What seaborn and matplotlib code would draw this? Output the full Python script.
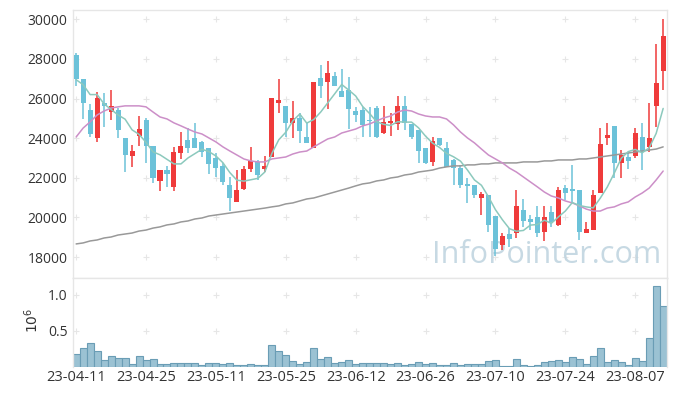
import numpy as np
import pandas as pd
import matplotlib
matplotlib.use('Agg')
import matplotlib.pyplot as plt
import seaborn as sns

# trading days shown on the axis (every 10th session)
tick_days = [0, 10, 20, 30, 40, 50, 60, 70, 80]
tick_labels = ['23-04-11', '23-04-25', '23-05-11', '23-05-25', '23-06-12',
               '23-06-26', '23-07-10', '23-07-24', '23-08-07']

opens = [28200, 27000, 25400, 24000, 25800, 25300, 25400, 24000, 23100, 24100,
         24900, 23600, 21850, 22400, 21550, 23250, 23900, 24000, 23800, 23500,
         23000, 22600, 21650, 20800, 21450, 22450, 22800, 22450, 23050, 25750,
         25600, 24750, 25000, 24050, 23500, 27050, 26850, 27150, 26400, 26450,
         25350, 25400, 24900, 25500, 24250, 24750, 24700, 25600, 24700, 24400,
         23500, 22800, 24000, 23500, 22900, 22500, 21700, 21650, 21000, 21150,
         20050, 18600, 19150, 19200, 20350, 19900, 20000, 19250, 20250, 19600,
         21500, 21450, 21400, 19200, 19350, 21250, 24000, 24600, 22750, 23050,
         23100, 24050, 23550, 25600, 27400]
highs = [28300, 27000, 25700, 26350, 26300, 26450, 25500, 24000, 23650, 25100,
         25000, 23600, 22400, 22600, 23550, 24300, 24500, 24750, 23850, 23500,
         23250, 22750, 22050, 22400, 22600, 23550, 22900, 23100, 26050, 27000,
         25600, 25900, 25250, 24800, 26850, 27700, 27900, 27350, 27500, 27100,
         25550, 25550, 25550, 25600, 25600, 25250, 26150, 26150, 24700, 24400,
         23500, 24050, 24000, 23800, 22950, 22650, 22000, 21650, 21300, 21150,
         20050, 19200, 19450, 21400, 20950, 20100, 20550, 20550, 20550, 21550,
         21650, 22650, 21400, 19750, 21400, 24500, 24750, 24600, 23400, 23300,
         24500, 24750, 25750, 28750, 30000]
lows = [26650, 24950, 24050, 23800, 24550, 24900, 24000, 22300, 22550, 23600,
        22750, 21750, 21350, 21550, 21350, 22950, 23250, 23500, 23050, 22200,
        22050, 21650, 20300, 20800, 21400, 22300, 21900, 22300, 23050, 25250,
        24050, 24000, 23750, 23750, 23500, 26050, 25450, 26650, 26100, 24450,
        24800, 24050, 24050, 24000, 24200, 24100, 24400, 24400, 23950, 22750,
        22700, 22600, 23600, 22550, 21650, 21500, 20750, 21000, 20100, 19250,
        18050, 18350, 18500, 18950, 19500, 19350, 19000, 18800, 19500, 19550,
        20900, 20750, 18850, 19200, 19350, 21250, 23650, 22000, 22000, 22450,
        23000, 22400, 23300, 24550, 26450]
closes = [27000, 25800, 24200, 26050, 25600, 25600, 24400, 23150, 23350, 24450,
          23600, 22000, 22400, 22200, 23300, 23600, 23500, 23500, 23300, 22700,
          22500, 21800, 21000, 21400, 22450, 22850, 22150, 22600, 26050, 25950,
          24750, 25000, 24350, 23750, 26850, 26650, 27300, 26650, 26100, 25450,
          25150, 24650, 24850, 24050, 24800, 24850, 25600, 24750, 24050, 23350,
          22750, 23850, 23650, 22550, 22500, 21650, 21600, 21150, 21200, 19600,
          18400, 19050, 18900, 20550, 19800, 19750, 19200, 20000, 19750, 21400,
          21250, 21350, 19250, 19400, 21150, 23700, 24150, 22750, 23150, 22850,
          24250, 23300, 24000, 26800, 29150]
# closes of the 4 sessions before the window (for the 5-day average)
prior_closes = [27050, 26700, 26050, 27950]

ma20 = [24060, 24510, 24820, 25170, 25370, 25520, 25580, 25630, 25630, 25630,
        25580, 25320, 25070, 24970, 24770, 24620, 24460, 24310, 24210, 24010,
        23810, 23560, 23350, 23150, 22950, 22850, 22800, 22800, 22950, 23000,
        23050, 23200, 23300, 23350, 23560, 23760, 23960, 24060, 24260, 24360,
        24460, 24620, 24720, 24870, 25020, 25120, 25320, 25420, 25370, 25220,
        25120, 25070, 25070, 24970, 24670, 24310, 24010, 23760, 23450, 23150,
        22950, 22750, 22490, 22290, 22040, 21790, 21540, 21280, 21080, 20980,
        20830, 20730, 20580, 20420, 20320, 20320, 20470, 20530, 20680, 20780,
        21030, 21230, 21480, 21890, 22340]
ma120 = [18660, 18710, 18810, 18860, 18960, 19010, 19110, 19160, 19210, 19310,
         19360, 19460, 19520, 19620, 19670, 19770, 19820, 19920, 19970, 20070,
         20120, 20170, 20220, 20270, 20320, 20370, 20420, 20470, 20530, 20580,
         20680, 20730, 20830, 20930, 20980, 21080, 21180, 21280, 21380, 21480,
         21590, 21690, 21740, 21840, 21890, 21990, 22040, 22140, 22190, 22290,
         22340, 22390, 22490, 22550, 22600, 22600, 22650, 22650, 22700, 22700,
         22750, 22750, 22750, 22750, 22800, 22800, 22800, 22850, 22850, 22900,
         22900, 22900, 22950, 22950, 23000, 23050, 23100, 23150, 23200, 23250,
         23300, 23350, 23400, 23450, 23560]

volume = [180000, 270000, 340000, 220000, 100000, 150000, 125000, 120000, 40000, 150000,
          100000, 110000, 40000, 40000, 50000, 50000, 50000, 50000, 25000, 50000,
          50000, 40000, 50000, 25000, 25000, 40000, 25000, 25000, 310000, 220000,
          160000, 80000, 40000, 65000, 260000, 110000, 135000, 50000, 65000, 100000,
          40000, 50000, 50000, 50000, 50000, 40000, 50000, 25000, 40000, 65000,
          40000, 50000, 25000, 25000, 50000, 25000, 40000, 40000, 40000, 80000,
          100000, 10000, 10000, 110000, 25000, 10000, 25000, 65000, 80000, 100000,
          65000, 135000, 110000, 40000, 150000, 260000, 65000, 100000, 65000, 25000,
          120000, 80000, 400000, 1125000, 850000]

RED = '#ef3b3b'
BLUE = '#6cc2d9'
MA5_C = '#8cc9bd'
MA20_C = '#cc8fc8'
MA120_C = '#999999'
VOL_FILL = '#9bc2d3'
VOL_EDGE = '#6a9db5'
GRID_C = '#e6e6e6'
SPINE_C = '#e6e6e6'

df = pd.DataFrame({'day': np.arange(len(closes)), 'open': opens, 'high': highs,
                   'low': lows, 'close': closes, 'ma20': ma20, 'ma120': ma120,
                   'volume': volume})
all_closes = pd.Series(prior_closes + closes)
df['ma5'] = all_closes.rolling(5).mean().iloc[len(prior_closes):].values

sns.set_theme(style='white')
plt.rcParams['font.family'] = ['Open Sans', 'DejaVu Sans']

fig = plt.figure(figsize=(6.77, 3.96), dpi=100)
ax = fig.add_axes([73 / 677, 118 / 396, 594 / 677, 268 / 396])
axv = fig.add_axes([73 / 677, 29 / 396, 594 / 677, 89 / 396])

# grid drawn as small crosses at tick intersections
gx, gy = np.meshgrid(tick_days, np.arange(18000, 30001, 2000))
ax.scatter(gx.ravel(), gy.ravel(), marker='+', s=14, color=GRID_C, linewidths=0.8, zorder=1)
gx, gy = np.meshgrid(tick_days, [500000, 1000000])
axv.scatter(gx.ravel(), gy.ravel(), marker='+', s=14, color=GRID_C, linewidths=0.8, zorder=1)

ax.text(0.99, 0.085, 'InfoPointer.com', transform=ax.transAxes, ha='right', va='center',
        fontsize=22, color='#bdd3df', alpha=0.85, zorder=2)

# candles
up = df['close'] >= df['open']
colors = np.where(up, RED, BLUE)
ax.vlines(df['day'], df['low'], df['high'], colors=colors, lw=1.1, zorder=3)
body = (df['close'] - df['open']).abs().clip(lower=60)
ax.bar(df['day'], body, bottom=df[['open', 'close']].min(axis=1), width=0.72,
       color=colors, linewidth=0, zorder=4)

# moving averages
sns.lineplot(data=df, x='day', y='ma120', color=MA120_C, lw=1.1, ax=ax, zorder=5)
sns.lineplot(data=df, x='day', y='ma20', color=MA20_C, lw=1.1, ax=ax, zorder=5)
sns.lineplot(data=df, x='day', y='ma5', color=MA5_C, lw=1.1, ax=ax, zorder=6)

ax.set_xlim(-0.45, 84.55)
ax.set_ylim(16940, 30470)
ax.set_xticks(tick_days)
ax.set_xticklabels([])
ax.set_yticks(np.arange(18000, 30001, 2000))
ax.set_yticklabels([str(v) for v in range(18000, 30001, 2000)])
ax.set_xlabel('')
ax.set_ylabel('')
ax.tick_params(length=0, labelsize=10, labelcolor='#333333', pad=4)
for s in ax.spines.values():
    s.set_color(SPINE_C)
    s.set_linewidth(1)

# volume
sns.barplot(data=df, x='day', y='volume', ax=axv, color=VOL_FILL, edgecolor=VOL_EDGE,
            linewidth=0.8, width=1, saturation=1, native_scale=True, errorbar=None)
axv.set_xlim(-0.45, 84.55)
axv.set_ylim(0, 1236000)
axv.set_xticks(tick_days)
axv.set_xticklabels(tick_labels)
axv.set_yticks([500000, 1000000])
axv.set_yticklabels(['0.5', '1.0'])
axv.set_xlabel('')
axv.set_ylabel('')
axv.tick_params(length=0, labelsize=10, labelcolor='#333333', pad=4)
axv.tick_params(axis='x', labelsize=10.5, pad=2)
for name, s in axv.spines.items():
    s.set_color(SPINE_C)
    s.set_linewidth(1)
axv.spines['bottom'].set_visible(False)

fig.text(33 / 677, 1 - 320 / 396, r'$10^6$', rotation=90, ha='center', va='center',
         fontsize=10, color='#333333')

fig.savefig('out.png', dpi=100)
plt.close(fig)
